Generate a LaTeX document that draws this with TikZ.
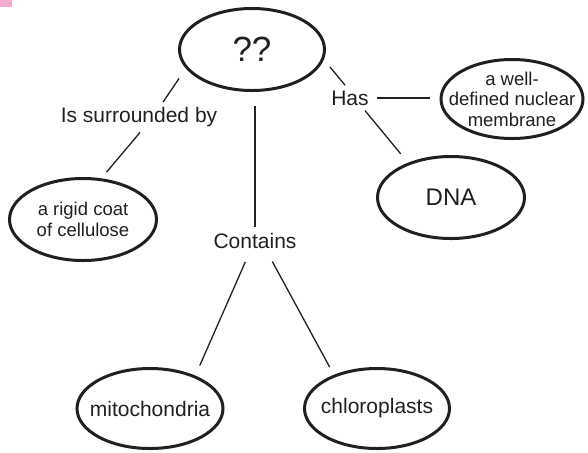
\documentclass[tikz,border=0pt]{standalone}
\usepackage{fontspec}
\setmainfont{Liberation Sans}
\usetikzlibrary{shapes.geometric}

\definecolor{tabpink}{RGB}{243,170,204}
\definecolor{inkgray}{RGB}{35,31,32}

\begin{document}
\begin{tikzpicture}[
  x=0.5pt, y=-0.5pt,
  concept/.style={ellipse, draw=inkgray, line width=1.5pt, inner xsep=-8pt, inner ysep=-2pt,
    text=inkgray, font=\fontsize{10.5}{12}\selectfont},
  small/.style={font=\fontsize{9.25}{10.25}\selectfont, align=center},
  linkword/.style={anchor=base, inner sep=2.5pt, text=inkgray, font=\fontsize{10.5}{12}\selectfont},
  link/.style={draw=inkgray, line width=0.65pt}
]

\useasboundingbox (0,0) rectangle (588,452);
\fill[tabpink] (0,0) rectangle (12,7);

% -------------------------
% Concepts (ellipses)
% -------------------------

\node[concept, minimum width=72.5pt, minimum height=41pt, font=\fontsize{17.5}{20}\selectfont] (cell) at (252,49.5) {??};
\node[concept, small, minimum width=71pt, minimum height=39.5pt] (membrane) at (512,99) {a well-\\defined nuclear\\membrane};
\node[concept, minimum width=73.5pt, minimum height=41pt, font=\fontsize{12}{14}\selectfont] (dna) at (451,197.5) {DNA};
\node[concept, small, minimum width=73.5pt, minimum height=41pt] (coat) at (83,219.5) {a rigid coat\\of cellulose};
\node[concept, minimum width=73pt, minimum height=40pt] (mito) at (150,408.5) {mitochondria};
\node[concept, minimum width=72.5pt, minimum height=40pt] (chloro) at (377,408.5) {chloroplasts};

% -------------------------
% Linking words
% -------------------------

\node[linkword] (surr) at (139,122.7) {Is surrounded by};
\node[linkword] (has)  at (350,105)   {Has};
\node[linkword] (cont) at (255,248)   {Contains};

% -------------------------
% Links
% -------------------------

% left branch
\draw[link, shorten <=6pt] (cell.196) -- ([xshift=12pt]surr.north);
\draw[link, shorten >=4pt] ([xshift=0.5pt]surr.south) -- (coat.66);

% middle branch
\draw[link, shorten <=7pt] (cell.south -| cont.north) -- (cont.north);
\draw[link, shorten <=4.5pt, shorten >=5.5pt] ([xshift=-3pt]cont.south) -- (mito.36);
\draw[link, shorten <=4.5pt, shorten >=4.4pt] ([xshift=6.5pt]cont.south) -- (chloro.142);

% right branch
\draw[link, shorten <=4.75pt] (cell.352) -- ([xshift=-2.5pt]has.north);
\draw[link, shorten <=1.5pt, shorten >=5pt] (has.east) -- (has.east -| membrane.west);
\draw[link, shorten >=5.75pt] ([xshift=7.5pt]has.south) -- (dna.141);

\end{tikzpicture}
\end{document}
